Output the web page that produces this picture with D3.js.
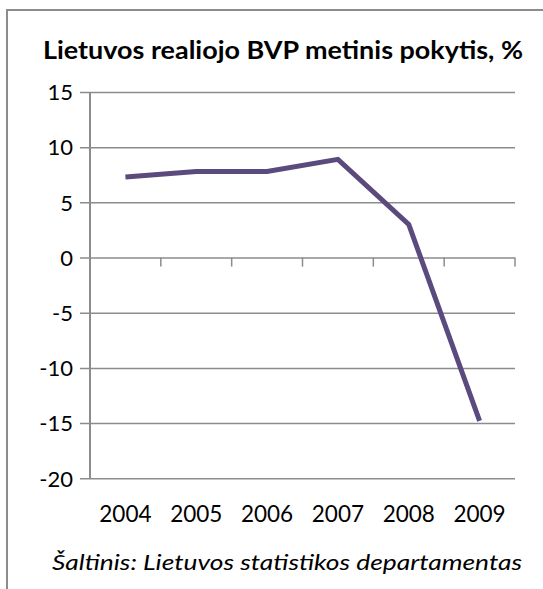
<!DOCTYPE html>
<html lang="lt">
<head>
<meta charset="utf-8">
<title>Lietuvos BVP</title>
<script src="https://d3js.org/d3.v7.min.js"></script>
<style>
  body { margin: 0; background: #fff; }
  text { font-family: Lato, "Open Sans", sans-serif; fill: #000; }
</style>
</head>
<body>
<script>
// data
var years = ["2004", "2005", "2006", "2007", "2008", "2009"];
var growth = [7.3, 7.8, 7.8, 8.9, 3.0, -14.8];
var yTicks = [15, 10, 5, 0, -5, -10, -15, -20];

var w = 543, h = 589;
var svg = d3.select("body").append("svg")
    .attr("width", w)
    .attr("height", h);

// outer frame (only top and left edges are visible)
svg.append("path")
    .attr("d", "M7,589 L7,10 L543,10")
    .attr("fill", "none")
    .attr("stroke", "#8c8c8c")
    .attr("stroke-width", 2);

svg.append("text")
    .attr("x", 43)
    .attr("y", 59)
    .attr("font-size", "25px")
    .attr("font-weight", "bold")
    .attr("textLength", 480)
    .attr("lengthAdjust", "spacingAndGlyphs")
    .text("Lietuvos realiojo BVP metinis pokytis, %");

var x = d3.scaleBand()
    .domain(years)
    .range([90, 515]);

var y = d3.scaleLinear()
    .domain([-20, 15])
    .range([478.3, 92]);

// gridlines + y labels
var yAxis = svg.append("g")
    .attr("transform", "translate(90,0)")
    .call(d3.axisLeft(y)
        .tickValues(yTicks)
        .tickSize(-(515 - 90))
        .tickPadding(17)
        .tickFormat(d3.format("d")));
yAxis.select(".domain").remove();
yAxis.selectAll(".tick line")
    .attr("x1", -10)
    .attr("stroke", "#8c8c8c")
    .attr("stroke-width", 1.5);
yAxis.selectAll(".tick text")
    .attr("font-size", "22px")
    .attr("font-family", "Lato, sans-serif")
    .attr("dy", "0.35em")
    .text(function(d) { return d < 0 ? "-" + Math.abs(d) : d; });

// vertical axis line
svg.append("line")
    .attr("x1", 90).attr("x2", 90)
    .attr("y1", y(15)).attr("y2", y(-20))
    .attr("stroke", "#8c8c8c")
    .attr("stroke-width", 2);

// category ticks on the zero line
var bounds = years.map(function(d) { return x(d) + x.bandwidth(); });
svg.selectAll(".xtick")
    .data(bounds)
    .enter().append("line")
    .attr("class", "xtick")
    .attr("x1", function(d) { return d; })
    .attr("x2", function(d) { return d; })
    .attr("y1", y(0))
    .attr("y2", y(0) + 9)
    .attr("stroke", "#8c8c8c")
    .attr("stroke-width", 1.5);

// year labels at the bottom
svg.selectAll(".year")
    .data(years)
    .enter().append("text")
    .attr("class", "year")
    .attr("x", function(d) { return x(d) + x.bandwidth() / 2; })
    .attr("y", 522)
    .attr("text-anchor", "middle")
    .attr("font-size", "22.5px")
    .text(function(d) { return d; });

var line = d3.line()
    .x(function(d, i) { return x(years[i]) + x.bandwidth() / 2; })
    .y(function(d) { return y(d); });

svg.append("path")
    .datum(growth)
    .attr("d", line)
    .attr("fill", "none")
    .attr("stroke", "#5b4a7e")
    .attr("stroke-width", 5)
    .attr("stroke-linejoin", "miter");

svg.append("text")
    .attr("x", 52)
    .attr("y", 570)
    .attr("font-size", "22px")
    .attr("font-style", "italic")
    .attr("textLength", 470)
    .attr("lengthAdjust", "spacingAndGlyphs")
    .text("Šaltinis: Lietuvos statistikos departamentas");
</script>
</body>
</html>
